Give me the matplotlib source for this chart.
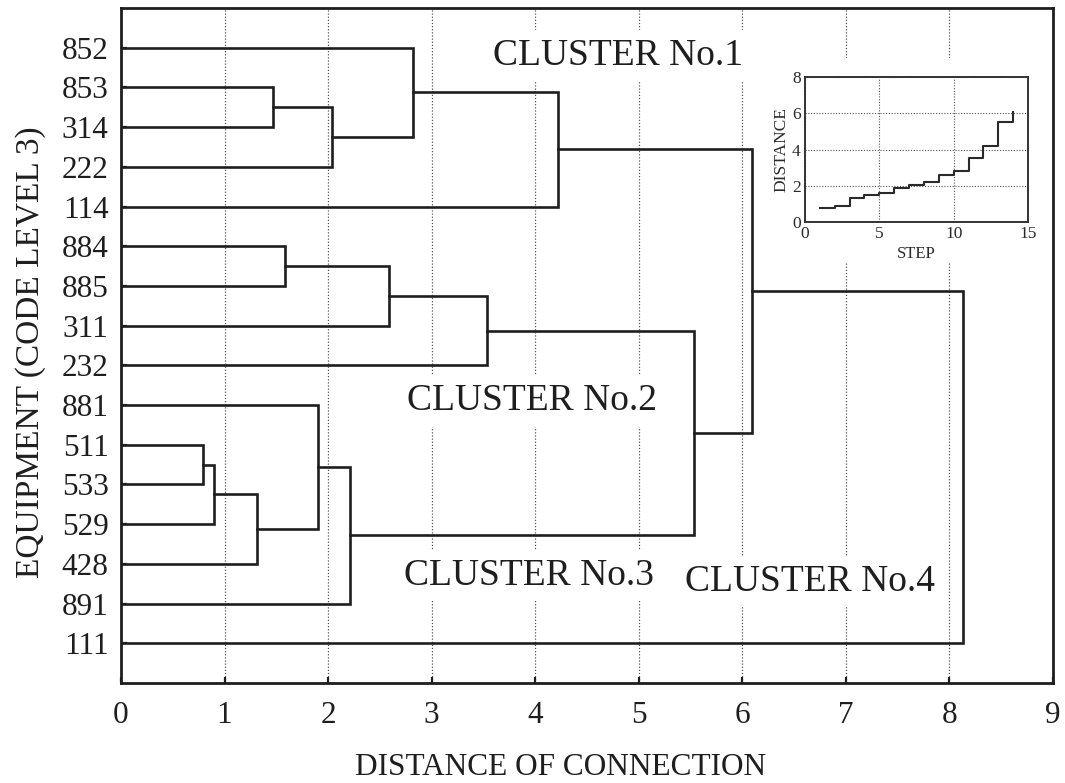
import matplotlib
matplotlib.use("Agg")
import matplotlib.pyplot as plt
from matplotlib.patches import Rectangle

plt.rcParams['font.family'] = ['Liberation Serif', 'DejaVu Serif']

# equipment codes, top to bottom
leaves = ['852', '853', '314', '222', '114', '884', '885', '311', '232',
          '881', '511', '533', '529', '428', '891', '111']

# agglomeration steps: (left member, right member, distance); 'cN' = cluster from step N
merge_left = ['511', 'c0', 'c1', '853', '884', '881', 'c3', 'c5',
              'c4', '852', 'c8', 'c9', 'c10', 'c11', 'c13']
merge_right = ['533', '529', '428', '314', '885', 'c2', '222', '891',
               '311', 'c6', '232', '114', 'c7', 'c12', '111']
merge_dist = [0.79, 0.90, 1.31, 1.47, 1.58, 1.90, 2.04, 2.21,
              2.59, 2.82, 3.53, 4.22, 5.53, 6.09, 8.13]

cluster_names = ['CLUSTER No.1', 'CLUSTER No.2', 'CLUSTER No.3', 'CLUSTER No.4']
cluster_label_pos = [(4.8, 1.2), (3.97, 9.9), (3.94, 14.3), (6.65, 14.45)]

# inset: distance at each step (last merge left out)
inset_steps = list(range(1, len(merge_dist)))
inset_dist = merge_dist[:-1]

INK = '#1e1e1e'
LW = 1.9
fig = plt.figure(figsize=(10.65, 7.83), dpi=100)
ax = fig.add_axes([121 / 1065, 1 - 683 / 783, 932 / 1065, 675 / 783])

# node positions: (distance, row)
pos = {name: (0.0, i + 1) for i, name in enumerate(leaves)}
for k, (a, b, d) in enumerate(zip(merge_left, merge_right, merge_dist)):
    xa, ya = pos[a]
    xb, yb = pos[b]
    ax.plot([xa, d, d, xb], [ya, ya, yb, yb], color=INK, lw=LW,
            solid_joinstyle='miter', zorder=2)
    pos['c%d' % k] = (d, (ya + yb) / 2)

ax.set_xlim(0, 9)
ax.set_ylim(len(leaves) + 1, 0)
ax.set_xticks(range(10))
ax.set_yticks(range(1, len(leaves) + 1))
ax.set_yticklabels(leaves)
ax.tick_params(axis='both', direction='in', labelsize=22.5, width=1.6,
               length=4, color=INK, labelcolor=INK)
ax.tick_params(axis='x', pad=13)
ax.tick_params(axis='y', pad=9)
ax.set_axisbelow(True)
ax.grid(axis='x', linestyle=(0, (1, 1.5)), color='#555555', lw=0.9)
for sp in ax.spines.values():
    sp.set_linewidth(2.0)
    sp.set_color(INK)

ax.set_xlabel('DISTANCE OF CONNECTION', fontsize=22.5, color=INK)
ax.xaxis.set_label_coords(0.472, -0.104)
ax.set_ylabel('EQUIPMENT (CODE LEVEL 3)', fontsize=24, color=INK)
ax.yaxis.set_label_coords(-0.08, 0.49)

for name, (tx, ty) in zip(cluster_names, cluster_label_pos):
    ax.text(tx, ty, name, fontsize=27, ha='center', va='center', zorder=1.5,
            color=INK, bbox=dict(facecolor='white', edgecolor='none', pad=6))

# blank area behind the inset
ax.add_patch(Rectangle((765 / 1065, 1 - 263 / 783), 280 / 1065, 205 / 783,
                       transform=fig.transFigure, facecolor='white',
                       edgecolor='none', zorder=1))

ins = fig.add_axes([805 / 1065, 1 - 222 / 783, 223 / 1065, 145 / 783])
ins.plot(inset_steps, inset_dist, drawstyle='steps-post', color='#2a2a2a', lw=1.5)
ins.set_xlim(0, 15)
ins.set_ylim(0, 8)
ins.set_xticks([0, 5, 10, 15])
ins.set_yticks([0, 2, 4, 6, 8])
ins.tick_params(labelsize=12.5, length=0, pad=3, labelcolor='#2a2a2a')
ins.grid(True, linestyle=(0, (1, 1.5)), color='#555555', lw=0.8)
for sp in ins.spines.values():
    sp.set_linewidth(1.4)
    sp.set_color('#333333')
ins.set_xlabel('STEP', fontsize=12, labelpad=3, color='#2a2a2a')
ins.set_ylabel('DISTANCE', fontsize=12.5, labelpad=2, color='#2a2a2a')

fig.savefig('out.png', dpi=100, facecolor='white')
